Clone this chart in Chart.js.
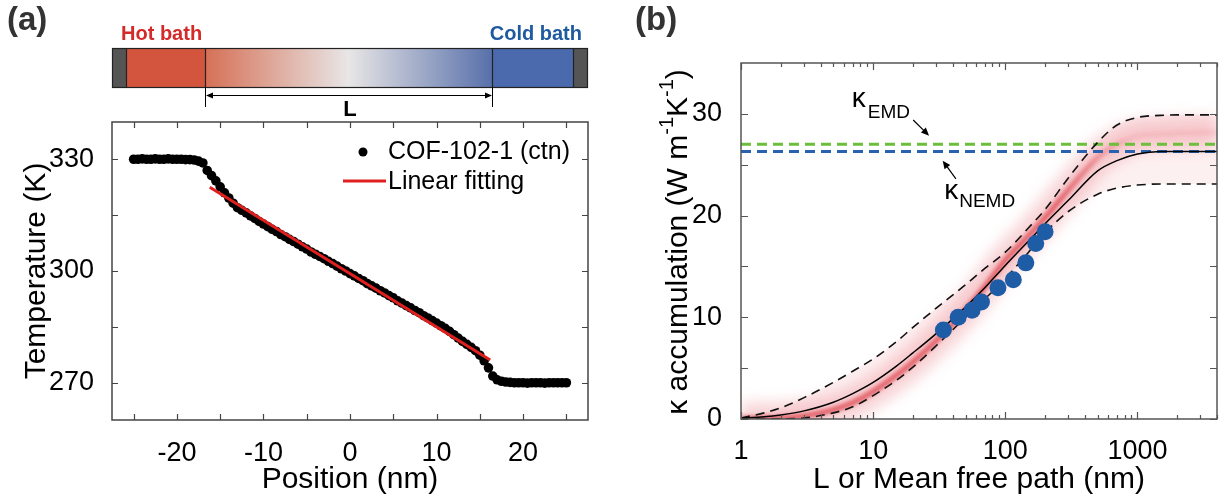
<!DOCTYPE html>
<html>
<head>
<meta charset="utf-8">
<script src="https://cdn.jsdelivr.net/npm/chart.js@4.4.1/dist/chart.umd.min.js"></script>
<style>
html, body { margin: 0; padding: 0; background: #fff; }
#wrap { position: relative; width: 1228px; height: 501px; }
.box { position: absolute; top: 0; width: 614px; height: 501px; }
</style>
</head>
<body>
<div id="wrap">
  <div class="box" style="left:0"><canvas id="chartA" width="614" height="501"></canvas></div>
  <div class="box" style="left:614px"><canvas id="chartB" width="614" height="501"></canvas></div>
</div>
<script>
// ---------- panel (a): temperature profile ----------
const POSITION = [
  -25, -24.5, -24, -23.5, -23, -22.5, -22, -21.5, -21, -20.5,
  -20, -19.5, -19, -18.5, -18, -17.5, -17, -16.5, -16, -15.5,
  -15, -14.5, -14, -13.5, -13, -12.5, -12, -11.5, -11, -10.5,
  -10, -9.5, -9, -8.5, -8, -7.5, -7, -6.5, -6, -5.5,
  -5, -4.5, -4, -3.5, -3, -2.5, -2, -1.5, -1, -0.5,
  0, 0.5, 1, 1.5, 2, 2.5, 3, 3.5, 4, 4.5,
  5, 5.5, 6, 6.5, 7, 7.5, 8, 8.5, 9, 9.5,
  10, 10.5, 11, 11.5, 12, 12.5, 13, 13.5, 14, 14.5,
  15, 15.5, 16, 16.5, 17, 17.5, 18, 18.5, 19, 19.5,
  20, 20.5, 21, 21.5, 22, 22.5, 23, 23.5, 24, 24.5, 25
];
const TEMPERATURE = [
  330.0, 330.0, 330.1, 330.0, 330.0, 330.1, 330.0, 330.0, 330.1, 330.0,
  330.0, 330.0, 329.9, 329.9, 329.8, 329.5, 329.0, 327.0, 325.6, 324.2,
  322.6, 321.0, 319.6, 318.2, 317.0, 316.3, 315.6, 314.8, 314.1, 313.3,
  312.6, 311.9, 311.2, 310.6, 309.8, 309.2, 308.5, 307.9, 307.2, 306.5,
  305.9, 305.1, 304.5, 303.9, 303.3, 302.6, 302.0, 301.3, 300.6, 300.0,
  299.3, 298.7, 298.0, 297.4, 296.6, 296.0, 295.4, 294.7, 294.1, 293.4,
  292.8, 292.0, 291.4, 290.7, 290.1, 289.4, 288.8, 288.0, 287.4, 286.7,
  286.0, 285.3, 284.6, 283.8, 282.9, 282.0, 281.1, 280.3, 279.5, 278.6,
  277.4, 275.9, 274.0, 271.8, 270.8, 270.4, 270.2, 270.1, 270.0, 270.0,
  270.0, 269.9, 270.0, 270.0, 270.0, 269.9, 270.0, 270.0, 270.0, 270.0, 270.0
];
const FIT_POSITION = [-16.2, 16.2];
const FIT_TEMPERATURE = [322.5, 276.1];
const TICKS_A_X = [-25, -20, -15, -10, -5, 0, 5, 10, 15, 20, 25];
const LABELS_A_X = [-20, -10, 0, 10, 20];
const TICKS_A_Y = [270, 285, 300, 315, 330];
const LABELS_A_Y = [270, 300, 330];

// ---------- panel (b): thermal conductivity accumulation ----------
const MFP = [1, 1.5, 2, 3, 5, 7, 10, 15, 20, 30, 50, 70, 100, 150, 200, 300, 500, 700, 1000, 1500, 2000, 4000];
const KAPPA_MEDIAN = [0.1, 0.22, 0.4, 0.8, 1.65, 2.5, 3.6, 5.2, 6.5, 8.4, 11.0, 12.9, 15.1, 17.5, 19.2, 21.5, 24.4, 25.4, 26.05, 26.3, 26.3, 26.3];
const KAPPA_UPPER = [0.1, 0.6, 1.1, 2.1, 3.6, 4.7, 5.9, 7.6, 9.0, 10.9, 13.2, 14.8, 16.4, 18.8, 20.6, 23.7, 27.2, 28.9, 29.65, 29.85, 29.9, 29.9];
const KAPPA_LOWER = [0, 0, 0.02, 0.1, 0.6, 1.2, 2.3, 3.8, 5.1, 7.2, 10.0, 11.8, 13.8, 16.4, 18.3, 20.4, 22.1, 22.7, 23.0, 23.1, 23.1, 23.1];
const KAPPA_DENSE = [0.05, 0.05, 0.1, 0.3, 0.9, 1.6, 2.7, 4.3, 5.6, 7.7, 10.7, 13.0, 15.6, 18.0, 19.8, 22.5, 25.7, 27.0, 27.8, 28.0, 28.1, 28.2];
const NEMD_LENGTH = [34, 44, 56, 66, 88, 115, 143, 170, 200];
const NEMD_KAPPA = [8.75, 10.0, 10.7, 11.5, 12.9, 13.7, 15.35, 17.25, 18.4];
const K_EMD = 27.0;
const K_NEMD = 26.3;
const TICKS_B_X = [1, 2, 3, 4, 5, 6, 7, 8, 9, 10, 20, 30, 40, 50, 60, 70, 80, 90,
  100, 200, 300, 400, 500, 600, 700, 800, 900, 1000, 2000, 3000, 4000];
const LABELS_B_X = [1, 10, 100, 1000];
const TICKS_B_Y = [0, 5, 10, 15, 20, 25, 30];
const LABELS_B_Y = [0, 10, 20, 30];

const FONT = '"Liberation Sans", Arial, Helvetica, sans-serif';
Chart.defaults.font.family = FONT;
Chart.defaults.color = '#000';

const pts = (xs, ys) => xs.map((x, i) => ({x: x, y: ys[i]}));

// box round the plot with inward ticks on all four sides
const frameTicks = {
  id: 'frameTicks',
  afterDatasetsDraw(chart, args, o) {
    const {ctx, chartArea: a, scales} = chart;
    ctx.save();
    ctx.strokeStyle = o.color;
    ctx.lineWidth = 1.2;
    ctx.beginPath();
    o.x.forEach(v => {
      const px = Math.round(scales.x.getPixelForValue(v)) + 0.5;
      const len = o.xMajor.includes(v) ? o.major : o.minor;
      ctx.moveTo(px, a.bottom); ctx.lineTo(px, a.bottom - len);
      ctx.moveTo(px, a.top); ctx.lineTo(px, a.top + len);
    });
    o.y.forEach(v => {
      const py = Math.round(scales.y.getPixelForValue(v)) + 0.5;
      ctx.moveTo(a.left, py); ctx.lineTo(a.left + o.major, py);
      ctx.moveTo(a.right, py); ctx.lineTo(a.right - o.major, py);
    });
    ctx.stroke();
    ctx.lineWidth = 1.5;
    ctx.strokeRect(a.left, a.top, a.right - a.left, a.bottom - a.top);
    ctx.restore();
  }
};

// soft edges for the red density band
const blurPlugin = {
  id: 'blurPlugin',
  beforeDatasetDraw(chart, args) {
    const b = chart.data.datasets[args.index].blur;
    if (b) { chart.ctx.save(); chart.ctx.filter = 'blur(' + b + 'px)'; }
  },
  afterDatasetDraw(chart, args) {
    if (chart.data.datasets[args.index].blur) chart.ctx.restore();
  }
};

// ---------- chart A ----------
const decorA = {
  id: 'decorA',
  afterDraw(chart) {
    const {ctx, chartArea: a} = chart;
    ctx.save();
    // panel letter
    ctx.fillStyle = '#333';
    ctx.font = 'bold 33px ' + FONT;
    ctx.textBaseline = 'alphabetic';
    ctx.fillText('(a)', 7, 30);

    // bath / sample bar
    const top = 48, h = 39;
    const hotEnd = a.left + 93, coldStart = a.right - 96;
    ctx.fillStyle = '#555';
    ctx.fillRect(a.left, top, 14, h);
    ctx.fillRect(a.right - 15, top, 15, h);
    ctx.fillStyle = '#d4553d';
    ctx.fillRect(a.left + 14, top, hotEnd - a.left - 14, h);
    ctx.fillStyle = '#4a6aad';
    ctx.fillRect(coldStart, top, a.right - 15 - coldStart, h);
    const g = ctx.createLinearGradient(hotEnd, 0, coldStart, 0);
    g.addColorStop(0, 'rgb(214,112,86)');
    g.addColorStop(0.5, 'rgb(232,230,230)');
    g.addColorStop(1, 'rgb(88,112,170)');
    ctx.fillStyle = g;
    ctx.fillRect(hotEnd, top, coldStart - hotEnd, h);
    ctx.strokeStyle = '#222';
    ctx.lineWidth = 1.2;
    ctx.strokeRect(a.left + 0.5, top + 0.5, a.right - a.left - 1, h);
    ctx.beginPath();
    [a.left + 14, hotEnd, coldStart, a.right - 15].forEach(x => {
      ctx.moveTo(x + 0.5, top); ctx.lineTo(x + 0.5, top + h);
    });
    ctx.stroke();

    ctx.font = 'bold 20px ' + FONT;
    ctx.fillStyle = '#d42a2a';
    ctx.textAlign = 'left';
    ctx.fillText('Hot bath', a.left + 9, 40);
    ctx.fillStyle = '#1f5aa0';
    ctx.textAlign = 'right';
    ctx.fillText('Cold bath', a.right - 6, 40);

    // dimension arrow L
    ctx.strokeStyle = '#000';
    ctx.fillStyle = '#000';
    ctx.lineWidth = 1;
    ctx.beginPath();
    ctx.moveTo(hotEnd + 0.5, top + h); ctx.lineTo(hotEnd + 0.5, top + h + 20);
    ctx.moveTo(coldStart + 0.5, top + h); ctx.lineTo(coldStart + 0.5, top + h + 20);
    ctx.moveTo(hotEnd + 4, 95.5); ctx.lineTo(coldStart - 4, 95.5);
    ctx.stroke();
    ctx.beginPath();
    ctx.moveTo(hotEnd + 1, 95.5); ctx.lineTo(hotEnd + 8, 92.5); ctx.lineTo(hotEnd + 8, 98.5); ctx.closePath();
    ctx.moveTo(coldStart, 95.5); ctx.lineTo(coldStart - 7, 92.5); ctx.lineTo(coldStart - 7, 98.5); ctx.closePath();
    ctx.fill();
    ctx.font = 'bold 22px ' + FONT;
    ctx.textAlign = 'center';
    ctx.fillText('L', (a.left + a.right) / 2, 116);

    // legend
    ctx.textAlign = 'left';
    ctx.textBaseline = 'middle';
    ctx.font = '25px ' + FONT;
    ctx.beginPath();
    ctx.arc(363, 152, 4.5, 0, Math.PI * 2);
    ctx.fill();
    ctx.fillText('COF-102-1 (ctn)', 388, 152);
    ctx.strokeStyle = '#e0201f';
    ctx.lineWidth = 3;
    ctx.beginPath();
    ctx.moveTo(343, 181); ctx.lineTo(386, 181);
    ctx.stroke();
    ctx.fillText('Linear fitting', 388, 182);
    ctx.restore();
  }
};

new Chart(document.getElementById('chartA'), {
  type: 'line',
  data: {
    datasets: [
      {
        label: 'COF-102-1 (ctn)',
        data: pts(POSITION, TEMPERATURE),
        showLine: false,
        pointRadius: 4.8,
        pointBackgroundColor: '#000',
        pointBorderWidth: 0,
        order: 1
      },
      {
        label: 'Linear fitting',
        data: pts(FIT_POSITION, FIT_TEMPERATURE),
        borderColor: '#e0201f',
        borderWidth: 3,
        pointRadius: 0,
        order: 0
      }
    ]
  },
  options: {
    responsive: false,
    animation: false,
    events: [],
    layout: { padding: { top: 122, right: 26, left: 0, bottom: 0 } },
    plugins: {
      legend: { display: false },
      tooltip: { enabled: false },
      frameTicks: { color: '#444', x: TICKS_A_X, xMajor: TICKS_A_X, y: TICKS_A_Y, major: 6, minor: 6 }
    },
    scales: {
      x: {
        type: 'linear', min: -27.5, max: 27.5,
        grid: { display: false }, border: { display: false },
        afterBuildTicks: s => { s.ticks = TICKS_A_X.map(v => ({value: v})); },
        afterFit: s => { s.height = 81; },
        ticks: { font: { size: 27 }, padding: 9, maxRotation: 0, autoSkip: false,
                 callback: v => LABELS_A_X.includes(v) ? String(v) : '' },
        title: { display: true, text: 'Position (nm)', font: { size: 30 }, padding: { top: 0, bottom: 3 } }
      },
      y: {
        min: 260, max: 340,
        grid: { display: false }, border: { display: false },
        afterBuildTicks: s => { s.ticks = TICKS_A_Y.map(v => ({value: v})); },
        afterFit: s => { s.width = 112; },
        ticks: { font: { size: 27 }, padding: 10, autoSkip: false,
                 callback: v => LABELS_A_Y.includes(v) ? String(v) : '' },
        title: { display: true, text: 'Temperature (K)', font: { size: 30 }, padding: { top: 19, bottom: 0 } }
      }
    }
  },
  plugins: [frameTicks, decorA]
});

// ---------- chart B ----------
function fadeRed(context) {
  const chart = context.chart;
  const a = chart.chartArea;
  if (!a) return 'rgba(214,35,45,0.7)';
  const xs = chart.scales.x;
  const f = v => Math.min(1, Math.max(0, (xs.getPixelForValue(v) - a.left) / (a.right - a.left)));
  const g = chart.ctx.createLinearGradient(a.left, 0, a.right, 0);
  g.addColorStop(0, 'rgba(214,35,45,0.7)');
  g.addColorStop(f(250), 'rgba(214,35,45,0.7)');
  g.addColorStop(f(900), 'rgba(214,35,45,0.1)');
  g.addColorStop(1, 'rgba(214,35,45,0.1)');
  return g;
}

function arrow(ctx, x1, y1, x2, y2) {
  const ang = Math.atan2(y2 - y1, x2 - x1);
  ctx.beginPath();
  ctx.moveTo(x1, y1); ctx.lineTo(x2 - 4 * Math.cos(ang), y2 - 4 * Math.sin(ang));
  ctx.stroke();
  ctx.beginPath();
  ctx.moveTo(x2, y2);
  ctx.lineTo(x2 - 8 * Math.cos(ang) + 3.5 * Math.sin(ang), y2 - 8 * Math.sin(ang) - 3.5 * Math.cos(ang));
  ctx.lineTo(x2 - 8 * Math.cos(ang) - 3.5 * Math.sin(ang), y2 - 8 * Math.sin(ang) + 3.5 * Math.cos(ang));
  ctx.closePath();
  ctx.fill();
}

const decorB = {
  id: 'decorB',
  afterDraw(chart) {
    const {ctx, scales: {x, y}} = chart;
    ctx.save();
    ctx.fillStyle = '#333';
    ctx.font = 'bold 33px ' + FONT;
    ctx.textBaseline = 'alphabetic';
    ctx.fillText('(b)', 21, 30);

    // kappa labels with arrows
    ctx.fillStyle = '#000';
    ctx.strokeStyle = '#000';
    ctx.lineWidth = 1.2;
    ctx.textBaseline = 'middle';
    ctx.font = '28px ' + FONT;
    const w = ctx.measureText('κ').width;
    let px = x.getPixelForValue(6.9), py = y.getPixelForValue(31.4);
    ctx.fillText('κ', px, py);
    ctx.font = '19px ' + FONT;
    ctx.fillText('EMD', px + w + 2, py + 13);
    arrow(ctx, x.getPixelForValue(20.1), y.getPixelForValue(29.4), x.getPixelForValue(26.5), y.getPixelForValue(27.85));

    px = x.getPixelForValue(34.5); py = y.getPixelForValue(22.4);
    ctx.font = '28px ' + FONT;
    ctx.fillText('κ', px, py);
    ctx.font = '19px ' + FONT;
    ctx.fillText('NEMD', px + w + 1, py + 11);
    arrow(ctx, x.getPixelForValue(42.3), y.getPixelForValue(23.6), x.getPixelForValue(33.6), y.getPixelForValue(25.4));

    // y title with superscripts
    const main = '30px ' + FONT, sup = '20px ' + FONT;
    const parts = [['κ accumulation (W m', main, 0], ['-1', sup, -12], ['K', main, 0], ['-1', sup, -12], [')', main, 0]];
    let total = 0;
    parts.forEach(p => { ctx.font = p[1]; p.push(ctx.measureText(p[0]).width); total += p[3]; });
    ctx.translate(65, 242);
    ctx.rotate(-Math.PI / 2);
    let cx = -total / 2;
    parts.forEach(p => { ctx.font = p[1]; ctx.fillText(p[0], cx, p[2]); cx += p[3]; });
    ctx.restore();
  }
};

const line = (data, extra) => Object.assign({ data: data, pointRadius: 0, borderWidth: 1.5, fill: false,
  cubicInterpolationMode: 'monotone' }, extra);

new Chart(document.getElementById('chartB'), {
  type: 'line',
  data: {
    datasets: [
      { label: 'NEMD', data: pts(NEMD_LENGTH, NEMD_KAPPA), showLine: false, pointRadius: 8.5,
        pointBackgroundColor: '#1f5ca6', pointBorderWidth: 0, order: 0 },
      line(pts(MFP, KAPPA_MEDIAN), { borderColor: '#000', order: 1 }),
      line(pts(MFP, KAPPA_UPPER), { borderColor: '#111', borderWidth: 1.6, borderDash: [9, 6], order: 2 }),
      line(pts(MFP, KAPPA_LOWER), { borderColor: '#111', borderWidth: 1.6, borderDash: [9, 6], order: 2 }),
      line([{x: 1, y: K_EMD}, {x: 4000, y: K_EMD}], { borderColor: '#6cbf3c', borderWidth: 3, borderDash: [10, 6], order: 3 }),
      line([{x: 1, y: K_NEMD}, {x: 4000, y: K_NEMD}], { borderColor: '#2a62b0', borderWidth: 3, borderDash: [10, 6], order: 3 }),
      line(pts(MFP, KAPPA_DENSE), { borderColor: fadeRed, borderWidth: 5, blur: 2, order: 4 }),
      line(pts(MFP, KAPPA_DENSE), { borderColor: 'rgba(230,100,112,0.28)', borderWidth: 32, blur: 7, order: 5 }),
      line(pts(MFP, KAPPA_LOWER), { borderWidth: 0, borderColor: 'rgba(0,0,0,0)', order: 6 }),
      line(pts(MFP, KAPPA_UPPER), { borderWidth: 0, borderColor: 'rgba(0,0,0,0)', fill: '-1',
        backgroundColor: 'rgba(235,130,140,0.12)', order: 6 })
    ]
  },
  options: {
    responsive: false,
    animation: false,
    events: [],
    layout: { padding: { top: 63, right: 11, left: 0, bottom: 0 } },
    plugins: {
      legend: { display: false },
      tooltip: { enabled: false },
      frameTicks: { color: '#555', x: TICKS_B_X, xMajor: LABELS_B_X, y: TICKS_B_Y, major: 7, minor: 4 }
    },
    scales: {
      x: {
        type: 'logarithmic', min: 1, max: 4000,
        grid: { display: false }, border: { display: false },
        afterBuildTicks: s => { s.ticks = TICKS_B_X.map(v => ({value: v})); },
        afterFit: s => { s.height = 82; },
        ticks: { font: { size: 27 }, padding: 8, maxRotation: 0, autoSkip: false,
                 callback: v => LABELS_B_X.includes(v) ? String(v) : '' },
        title: { display: true, text: 'L or Mean free path (nm)', font: { size: 30 }, padding: { top: 0, bottom: 3 } }
      },
      y: {
        min: 0, max: 35,
        grid: { display: false }, border: { display: false },
        afterBuildTicks: s => { s.ticks = TICKS_B_Y.map(v => ({value: v})); },
        afterFit: s => { s.width = 127; },
        ticks: { font: { size: 27 }, padding: 11, autoSkip: false,
                 callback: v => LABELS_B_Y.includes(v) ? String(v) : '' },
        title: { display: false }
      }
    }
  },
  plugins: [blurPlugin, frameTicks, decorB]
});
</script>
</body>
</html>
